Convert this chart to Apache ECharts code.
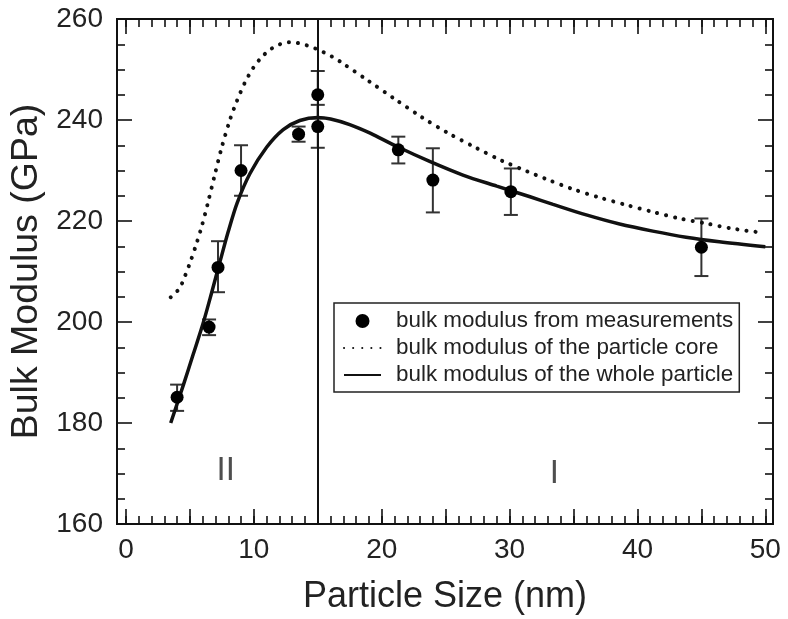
<!DOCTYPE html>
<html>
<head>
<meta charset="utf-8">
<script src="https://cdn.jsdelivr.net/npm/echarts@6/dist/echarts.min.js"></script>
<style>
html,body{margin:0;padding:0;background:#fff;}
#c{width:788px;height:619px;}
</style>
</head>
<body>
<div id="c"></div>
<script>
// ---- data ----
const measX    = [4.0, 6.5, 7.2, 9.0, 13.5, 15.0, 15.0, 21.3, 24.0, 30.1, 45.0];
const measY    = [185.1, 199.0, 210.8, 230.0, 237.2, 245.0, 238.7, 234.1, 228.1, 225.8, 214.8];
const errLow   = [182.4, 197.4, 205.9, 225.0, 235.7, 240.3, 234.5, 231.4, 221.7, 221.2, 209.1];
const errHigh  = [187.6, 200.5, 216.0, 235.0, 238.7, 249.7, 243.0, 236.7, 234.4, 230.4, 220.5];

const coreX = [3.5, 4.17, 4.6, 5.05, 5.5, 5.9, 6.4, 6.95, 7.47, 8.13, 8.65, 9.3, 9.95, 10.6, 11.25, 11.95, 12.7, 13.3, 14.06, 14.77, 15.47, 16.15, 16.85, 18.93, 21.0, 23.1, 25.2, 27.3, 29.35, 31.4, 32.87, 34.95, 37.03, 39.1, 41.2, 43.3, 45.4, 47.4, 49.7];
const coreY = [204.9, 206.6, 209.0, 212.0, 215.4, 218.7, 223.5, 229.2, 234.4, 240.0, 243.6, 247.4, 250.3, 252.4, 253.9, 254.9, 255.4, 255.3, 254.85, 254.2, 253.4, 252.5, 251.4, 247.8, 244.2, 240.6, 237.4, 234.6, 232.0, 229.8, 228.3, 226.3, 224.65, 223.2, 221.8, 220.5, 219.5, 218.5, 217.7];

const wholeX = [3.5, 4.5, 5.26, 6.04, 6.7, 7.34, 8.0, 8.7, 9.7, 11.0, 12.3, 13.6, 15.0, 16.0, 17.5, 19.1, 21.15, 23.75, 26.35, 29.0, 31.6, 33.4, 36.0, 38.6, 41.2, 43.8, 46.4, 50.0];
const wholeY = [180.0, 187.6, 193.6, 199.8, 205.8, 211.8, 217.9, 223.6, 229.4, 234.6, 238.1, 239.9, 240.5, 240.2, 239.1, 237.4, 234.8, 231.8, 229.1, 226.9, 224.8, 223.3, 221.2, 219.4, 218.0, 216.8, 215.9, 214.9];

const boundaryX = 15;
const regionX = [7.8, 33.5];
const regionY = [170.5, 170.0];
const regionText = ['II', 'I'];

const xLabelValues = [0, 10, 20, 30, 40, 50];
const xMajorTicks = [0, 5, 10, 15, 20, 25, 30, 35, 40, 45, 50];
const xMinorTicks = [];
for (let v = 0; v <= 50; v++) xMinorTicks.push(v);

const seriesNames = ['bulk modulus from measurements', 'bulk modulus of the particle core', 'bulk modulus of the whole particle'];
const xTitle = 'Particle Size (nm)';
const yTitle = 'Bulk Modulus (GPa)';

// ---- chart ----
const FONT = '"Liberation Sans", Arial, sans-serif';
const INK = '#111';
const xMin = -0.7, xMax = 50.6;

function xAx(pos, ticks, len, extra) {
  return Object.assign({
    type: 'value', min: xMin, max: xMax, position: pos,
    axisLine: { show: true, onZero: false, lineStyle: { color: INK, width: 2 } },
    axisTick: { show: true, inside: true, length: len, customValues: ticks, lineStyle: { color: INK, width: 1.6 } },
    axisLabel: { show: false },
    splitLine: { show: false }
  }, extra || {});
}

const chart = echarts.init(document.getElementById('c'), null, { renderer: 'canvas' });
chart.setOption({
  animation: false,
  backgroundColor: '#fff',
  textStyle: { fontFamily: FONT },
  grid: { left: 117, right: 15, top: 19, bottom: 95, containLabel: false, outerBoundsMode: 'none' },
  xAxis: [
    xAx('bottom', xMajorTicks, 15, {
      axisLabel: { show: true, customValues: xLabelValues, fontSize: 28, color: '#222', margin: 12, fontFamily: FONT },
      name: xTitle, nameLocation: 'middle', nameGap: 55,
      nameTextStyle: { fontSize: 36, color: '#222', fontFamily: FONT }
    }),
    xAx('bottom', xMinorTicks, 8),
    xAx('top', xMajorTicks, 15),
    xAx('top', xMinorTicks, 8)
  ],
  yAxis: [
    {
      type: 'value', min: 160, max: 260, interval: 20, position: 'left',
      axisLine: { show: true, onZero: false, lineStyle: { color: INK, width: 2 } },
      axisTick: { show: true, inside: true, length: 15, lineStyle: { color: INK, width: 1.6 } },
      minorTick: { show: true, splitNumber: 4, length: 8, lineStyle: { color: INK, width: 1.6 } },
      axisLabel: { fontSize: 28, color: '#222', margin: 14, fontFamily: FONT },
      splitLine: { show: false },
      name: yTitle, nameLocation: 'middle', nameGap: 61,
      nameTextStyle: { fontSize: 37.5, color: '#222', fontFamily: FONT }
    },
    {
      type: 'value', min: 160, max: 260, interval: 20, position: 'right',
      axisLine: { show: true, onZero: false, lineStyle: { color: INK, width: 2 } },
      axisTick: { show: true, inside: true, length: 15, lineStyle: { color: INK, width: 1.6 } },
      minorTick: { show: true, splitNumber: 4, length: 8, lineStyle: { color: INK, width: 1.6 } },
      axisLabel: { show: false },
      splitLine: { show: false }
    }
  ],
  legend: {
    data: [
      { name: seriesNames[0], icon: 'circle' },
      { name: seriesNames[1], itemStyle: { opacity: 0 } },
      { name: seriesNames[2], itemStyle: { opacity: 0 } }
    ],
    orient: 'vertical', left: 334, top: 303,
    padding: [7, 6, 6, 9], itemGap: 5,
    itemWidth: 37, itemHeight: 14,
    borderColor: '#222', borderWidth: 1.5, backgroundColor: '#fff',
    textStyle: { fontSize: 22.4, color: '#222', fontFamily: FONT, lineHeight: 22, padding: [0, 0, 0, 10] },
    selectedMode: false
  },
  series: [
    {
      type: 'custom', name: 'errors', silent: true, z: 3,
      encode: { x: 0, y: [1, 2] },
      data: measX.map((x, i) => [x, errLow[i], errHigh[i]]),
      renderItem: function (params, api) {
        const x = api.value(0);
        const p1 = api.coord([x, api.value(1)]);
        const p2 = api.coord([x, api.value(2)]);
        const w = 7;
        const st = { stroke: '#333', lineWidth: 2 };
        return {
          type: 'group', children: [
            { type: 'line', shape: { x1: p1[0], y1: p1[1], x2: p2[0], y2: p2[1] }, style: st },
            { type: 'line', shape: { x1: p1[0] - w, y1: p1[1], x2: p1[0] + w, y2: p1[1] }, style: st },
            { type: 'line', shape: { x1: p2[0] - w, y1: p2[1], x2: p2[0] + w, y2: p2[1] }, style: st }
          ]
        };
      }
    },
    {
      type: 'scatter', name: seriesNames[0], z: 5,
      symbol: 'circle', symbolSize: 13,
      itemStyle: { color: '#000', opacity: 1 },
      data: measX.map((x, i) => [x, measY[i]])
    },
    {
      type: 'line', name: seriesNames[1], z: 4,
      symbol: 'none', showSymbol: false, smooth: 0.3,
      lineStyle: { color: '#111', width: 4, type: [0.1, 9], cap: 'round' },
      itemStyle: { color: '#111' },
      data: coreX.map((x, i) => [x, coreY[i]])
    },
    {
      type: 'line', name: seriesNames[2], z: 4,
      symbol: 'none', showSymbol: false, smooth: 0.3,
      lineStyle: { color: '#111', width: 3.5, type: 'solid' },
      itemStyle: { color: '#111' },
      data: wholeX.map((x, i) => [x, wholeY[i]]),
      markLine: {
        silent: true, symbol: ['none', 'none'],
        label: { show: false },
        lineStyle: { color: INK, width: 2, type: 'solid' },
        emphasis: { disabled: true },
        data: [{ xAxis: boundaryX }]
      }
    },
    {
      type: 'scatter', name: 'regions', silent: true, z: 2,
      symbol: 'circle', symbolSize: 0, itemStyle: { color: 'rgba(0,0,0,0)' },
      label: {
        show: true, position: 'inside', fontSize: 33, color: '#222', fontFamily: FONT,
        formatter: p => regionText[p.dataIndex]
      },
      emphasis: { disabled: true },
      data: regionX.map((x, i) => [x, regionY[i]])
    }
  ]
});
</script>
</body>
</html>
